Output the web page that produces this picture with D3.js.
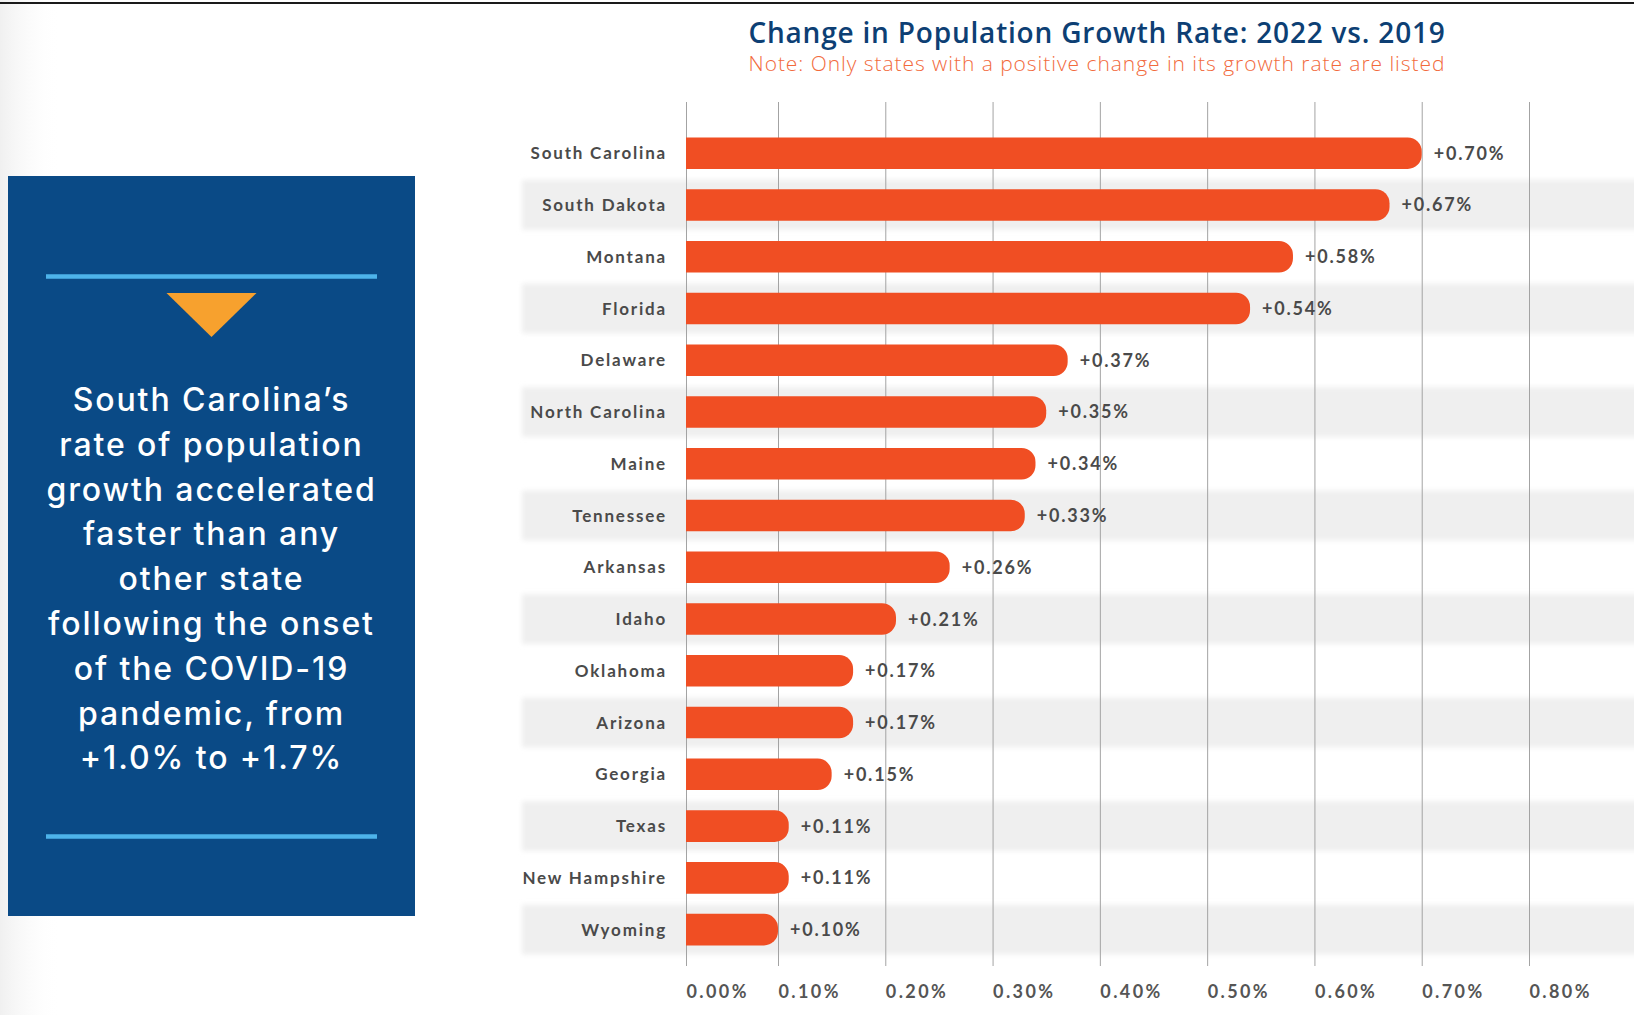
<!DOCTYPE html>
<html>
<head>
<meta charset="utf-8">
<script src="https://cdn.jsdelivr.net/npm/d3@7/dist/d3.min.js"></script>
<style>
  html, body { margin: 0; padding: 0; background: #ffffff; }
  svg { display: block; }
</style>
</head>
<body>
<svg id="chart" width="1634" height="1015"></svg>
<script>
// Change in population growth rate, 2022 vs. 2019 (percentage points)
const states = [
  "South Carolina", "South Dakota", "Montana", "Florida", "Delaware",
  "North Carolina", "Maine", "Tennessee", "Arkansas", "Idaho",
  "Oklahoma", "Arizona", "Georgia", "Texas", "New Hampshire", "Wyoming"
];
const changes = [0.70, 0.67, 0.58, 0.54, 0.37, 0.35, 0.34, 0.33, 0.26, 0.21, 0.17, 0.17, 0.15, 0.11, 0.11, 0.10];
const tickValues = [0, 0.1, 0.2, 0.3, 0.4, 0.5, 0.6, 0.7, 0.8];

const titleText = "Change in Population Growth Rate: 2022 vs. 2019";
const noteText = "Note: Only states with a positive change in its growth rate are listed";
const calloutLines = [
  "South Carolina\u2019s",
  "rate of population",
  "growth accelerated",
  "faster than any",
  "other state",
  "following the onset",
  "of the COVID-19",
  "pandemic, from",
  "+1.0% to +1.7%"
];

const W = 1634, H = 1015;
const svg = d3.select("#chart");

const C = {
  bar: "#f04e23",
  navy: "#0a4a86",
  skyline: "#4db3ea",
  amber: "#f7a12e",
  title: "#0d3f74",
  note: "#f26a3c",
  label: "#4a4a4a",
  grid: "#a3a3a3",
  stripe: "#efefef"
};

const defs = svg.append("defs");
defs.append("filter").attr("id", "soft")
  .attr("x", "-5%").attr("y", "-30%").attr("width", "110%").attr("height", "160%")
  .append("feGaussianBlur").attr("stdDeviation", 2.5);
const edge = defs.append("linearGradient").attr("id", "edgeShade")
  .attr("x1", 0).attr("x2", 1).attr("y1", 0).attr("y2", 0);
edge.append("stop").attr("offset", 0).attr("stop-color", "#f0f0f0");
edge.append("stop").attr("offset", 1).attr("stop-color", "#ffffff").attr("stop-opacity", 0);

// page background and top rule
svg.append("rect").attr("width", W).attr("height", H).attr("fill", "#fff");
svg.append("rect").attr("x", 0).attr("y", 0).attr("width", 60).attr("height", H).attr("fill", "url(#edgeShade)");
svg.append("line").attr("x1", 0).attr("x2", W).attr("y1", 3).attr("y2", 3)
  .attr("stroke", "#1a1a1a").attr("stroke-width", 2.2);

// ---------- callout panel ----------
const panel = { x: 8, y: 176, w: 407, h: 740 };
const pg = svg.append("g");
pg.append("rect").attr("x", panel.x).attr("y", panel.y).attr("width", panel.w).attr("height", panel.h)
  .attr("fill", C.navy);
const cx = panel.x + panel.w / 2;
[276.5, 836.5].forEach(yy => {
  pg.append("line").attr("x1", 46).attr("x2", 377).attr("y1", yy).attr("y2", yy)
    .attr("stroke", C.skyline).attr("stroke-width", 4.5);
});
pg.append("path")
  .attr("d", `M${cx - 45},293 L${cx + 45},293 L${cx},337 Z`)
  .attr("fill", C.amber);
pg.append("g").selectAll("text").data(calloutLines).join("text")
  .attr("x", cx)
  .attr("y", (d, i) => 411 + i * 44.8)
  .attr("text-anchor", "middle")
  .attr("font-family", "Inter, 'Open Sans', sans-serif")
  .attr("font-weight", 500)
  .attr("font-size", 32)
  .attr("letter-spacing", 1.9)
  .attr("fill", "#ffffff")
  .text(d => d);

// ---------- bar chart ----------
const x = d3.scaleLinear()
  .domain([0, 0.1, 0.8])
  .range([686, 778, 1529]);

const y = d3.scaleBand()
  .domain(states)
  .range([127.3, 955.5])
  .paddingInner(0.39)
  .paddingOuter(0.195);

const step = y.step();
const bw = y.bandwidth();
const rows = states.map((s, i) => ({ state: s, value: changes[i], i }));
const pct = v => v.toFixed(2) + "%";

// alternating soft stripes
svg.append("g").attr("filter", "url(#soft)")
  .selectAll("rect").data(rows.filter(d => d.i % 2 === 1)).join("rect")
  .attr("x", 522)
  .attr("width", W - 522 + 20)
  .attr("y", d => y(d.state) + bw / 2 - step / 2 + 1)
  .attr("height", step - 2)
  .attr("fill", C.stripe);

// vertical gridlines from the axis
const axis = d3.axisBottom(x)
  .tickValues(tickValues)
  .tickSize(966 - 102)
  .tickFormat(pct);
const ag = svg.append("g").attr("transform", "translate(0,102)").call(axis);
ag.select(".domain").remove();
ag.selectAll(".tick line").attr("stroke", C.grid).attr("stroke-width", 1);
ag.selectAll(".tick text")
  .attr("text-anchor", "start")
  .attr("y", 966 - 102 + 32)
  .attr("dy", 0)
  .attr("font-family", "Lato, 'Open Sans', sans-serif")
  .attr("font-weight", 700)
  .attr("font-size", 18)
  .attr("letter-spacing", 2.4)
  .attr("fill", "#555555");

// bars: square at the baseline, rounded at the value end
const r = 14;
function barPath(d) {
  const x0 = x(0), x1 = x(d.value), y0 = y(d.state), y1 = y0 + bw;
  return `M${x0},${y0} H${x1 - r} A${r},${r} 0 0 1 ${x1},${y0 + r} V${y1 - r} A${r},${r} 0 0 1 ${x1 - r},${y1} H${x0} Z`;
}
svg.append("g").selectAll("path").data(rows).join("path")
  .attr("d", barPath)
  .attr("fill", C.bar);

// state names
svg.append("g").selectAll("text").data(rows).join("text")
  .attr("x", 667)
  .attr("y", d => y(d.state) + bw / 2)
  .attr("dy", "0.36em")
  .attr("text-anchor", "end")
  .attr("font-family", "Lato, 'Open Sans', sans-serif")
  .attr("font-weight", 700)
  .attr("font-size", 17)
  .attr("letter-spacing", 1.8)
  .attr("fill", C.label)
  .text(d => d.state);

// value labels
svg.append("g").selectAll("text").data(rows).join("text")
  .attr("x", d => x(d.value) + 12)
  .attr("y", d => y(d.state) + bw / 2)
  .attr("dy", "0.36em")
  .attr("font-family", "Lato, 'Open Sans', sans-serif")
  .attr("font-weight", 700)
  .attr("font-size", 18)
  .attr("letter-spacing", 1.8)
  .attr("fill", C.label)
  .text(d => "+" + pct(d.value));

// title and note
svg.append("text")
  .attr("x", 1097).attr("y", 43)
  .attr("text-anchor", "middle")
  .attr("font-family", "'Open Sans', sans-serif")
  .attr("font-weight", 600)
  .attr("font-size", 28)
  .attr("letter-spacing", 0.8)
  .attr("fill", C.title)
  .text(titleText);
svg.append("text")
  .attr("x", 1097).attr("y", 71)
  .attr("text-anchor", "middle")
  .attr("font-family", "'Open Sans', sans-serif")
  .attr("font-weight", 300)
  .attr("font-size", 21)
  .attr("letter-spacing", 0.95)
  .attr("fill", C.note)
  .text(noteText);
</script>
</body>
</html>
